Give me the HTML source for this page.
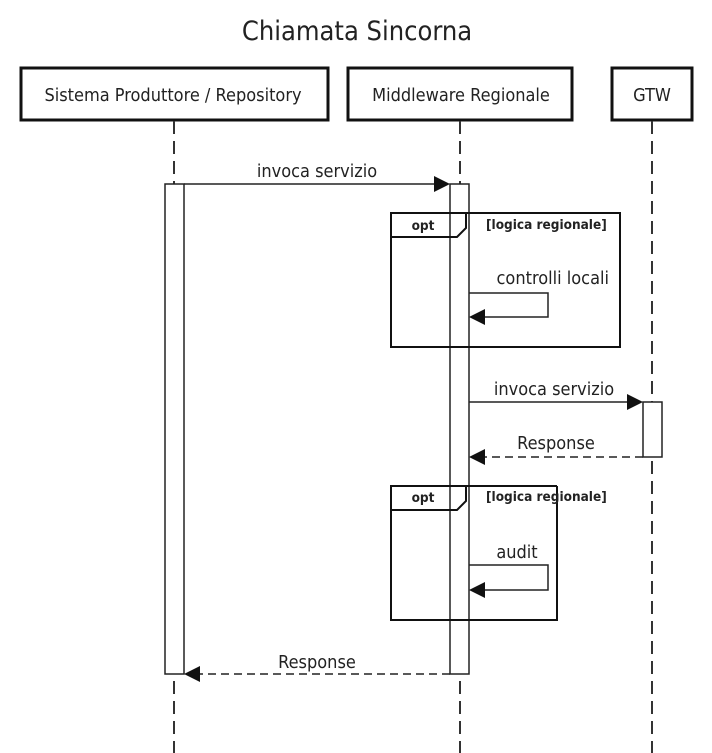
<!DOCTYPE html>
<html><head><meta charset="utf-8"><style>
html,body{margin:0;padding:0;background:#fff;}
svg{display:block;}
text{font-family:"DejaVu Sans Condensed","DejaVu Sans","Liberation Sans",sans-serif;fill:#222;}
</style></head><body>
<svg width="712" height="753" viewBox="0 0 712 753" xmlns="http://www.w3.org/2000/svg">
<text x="357" y="40" font-size="27" text-anchor="middle">Chiamata Sincorna</text>
<g fill="#fff" stroke="#111" stroke-width="3">
<rect x="21" y="68" width="307" height="52"/>
<rect x="348" y="68" width="224" height="52"/>
<rect x="612" y="68" width="80" height="52"/>
</g>
<g font-size="18" text-anchor="middle">
<text x="173" y="101">Sistema Produttore / Repository</text>
<text x="461" y="101">Middleware Regionale</text>
<text x="652" y="101">GTW</text>
</g>
<g stroke="#333" stroke-width="2" stroke-dasharray="13,7">
<line x1="174" y1="121" x2="174" y2="753"/>
<line x1="460" y1="121" x2="460" y2="753"/>
<line x1="652" y1="121" x2="652" y2="753"/>
</g>
<g fill="#fff" stroke="#222" stroke-width="1.5">
<rect x="165" y="184" width="19" height="490"/>
<rect x="450" y="184" width="19" height="490"/>
<rect x="643" y="402" width="19" height="55"/>
</g>
<g fill="none" stroke="#111" stroke-width="2">
<rect x="391" y="213" width="229" height="134"/>
<path d="M391 237 H457 L466 228 V213"/>
<path d="M557 486 V620 H391 V486 H466"/>
<path d="M391 510 H457 L466 501 V486 H557"/>
</g>
<g font-size="13.5" font-weight="bold">
<text x="423" y="230" text-anchor="middle">opt</text>
<text x="486" y="229">[logica regionale]</text>
<text x="423" y="502" text-anchor="middle">opt</text>
<text x="486" y="501">[logica regionale]</text>
</g>
<g font-size="18">
<text x="317" y="177" text-anchor="middle">invoca servizio</text>
<text x="609" y="284" text-anchor="end">controlli locali</text>
<text x="554" y="395" text-anchor="middle">invoca servizio</text>
<text x="556" y="449" text-anchor="middle">Response</text>
<text x="517" y="558" text-anchor="middle">audit</text>
<text x="317" y="668" text-anchor="middle">Response</text>
</g>
<g stroke="#222" stroke-width="1.5" fill="none">
<line x1="184" y1="184" x2="436" y2="184"/>
<path d="M469 293 H548 V317 H484"/>
<line x1="469" y1="402" x2="629" y2="402"/>
<line x1="643" y1="457" x2="484" y2="457" stroke-dasharray="8,5"/>
<path d="M469 565 H548 V590 H484"/>
<line x1="450" y1="674" x2="198" y2="674" stroke-dasharray="8,5"/>
</g>
<g fill="#111">
<polygon points="450,184 434,176 434,192"/>
<polygon points="469,317 485,309 485,325"/>
<polygon points="643,402 627,394 627,410"/>
<polygon points="469,457 485,449 485,465"/>
<polygon points="469,590 485,582 485,598"/>
<polygon points="184,674 200,666 200,682"/>
</g>
</svg>
</body></html>
